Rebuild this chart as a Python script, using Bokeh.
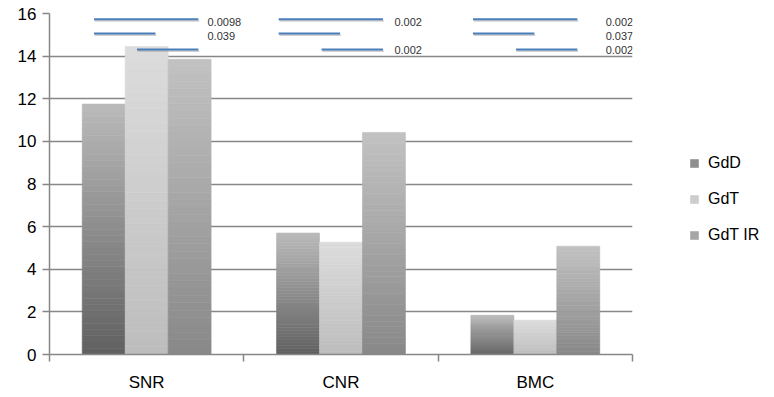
import numpy as np
from bokeh.plotting import figure
from bokeh.models import ColumnDataSource, Range1d, FixedTicker, Legend, LegendItem
from bokeh.embed import file_html
from bokeh.resources import INLINE
from bokeh.core.properties import value

# ---------------- data ----------------
categories = ["SNR", "CNR", "BMC"]
series_names = ["GdD", "GdT", "GdT IR"]
gdd = [11.75, 5.70, 1.84]
gdt = [14.45, 5.27, 1.61]
gdt_ir = [13.85, 10.42, 5.08]
y_ticks = [0, 2, 4, 6, 8, 10, 12, 14, 16]

# significance brackets: group index, from-series, to-series, level, p-value label
sig_group = [0, 0, 0, 1, 1, 1, 2, 2, 2]
sig_from = [0, 0, 1, 0, 0, 1, 0, 0, 1]
sig_to = [2, 1, 2, 2, 1, 2, 2, 1, 2]
sig_level = [15.73, 15.06, 14.31, 15.73, 15.06, 14.31, 15.73, 15.06, 14.31]
sig_label = ["0.0098", "0.039", "", "0.002", "", "0.002", "0.002", "0.037", "0.002"]
label_level = [15.59, 14.94, 14.30]

# ---------------- style / layout ----------------
bar_w = 0.221
grad_bottom = ["#606060", "#bdbdbd", "#888888"]
grad_top = ["#bababa", "#dcdcdc", "#c2c2c2"]
line_shift = [0.05, 0.0, 0.0]      # per-group shift of bracket lines
label_dx = [0.313, 0.275, 0.362]   # per-group x offset of p-value labels
FONT = "Liberation Sans"

p = figure(frame_width=583, frame_height=341, output_backend="svg", toolbar_location=None,
           x_range=Range1d(0, 3), y_range=Range1d(0, 16),
           min_border_left=49, min_border_right=142, min_border_top=13, min_border_bottom=43)
p.outline_line_color = None
p.background_fill_color = "white"

def hex2rgb(h):
    h = h.lstrip("#")
    return np.array([int(h[i:i + 2], 16) for i in (0, 2, 4)], dtype=float)

def rgb2hex(c):
    return "#%02x%02x%02x" % tuple(int(round(v)) for v in c)

N = 40
renderers = []
for s, vals in enumerate([gdd, gdt, gdt_ir]):
    cb, ct = hex2rgb(grad_bottom[s]), hex2rgb(grad_top[s])
    d = dict(left=[], right=[], bottom=[], top=[], color=[])
    for g, v in enumerate(vals):
        xc = g + 0.5 + (s - 1) * bar_w
        edges = np.linspace(0, v, N + 1)
        for k in range(N):
            t = (k + 0.5) / N
            col = rgb2hex(cb * (1 - t) + ct * t)
            d["left"].append(xc - bar_w / 2)
            d["right"].append(xc + bar_w / 2)
            d["bottom"].append(edges[k])
            d["top"].append(edges[k + 1])
            d["color"].append(col)
    src = ColumnDataSource(d)
    r = p.quad(left="left", right="right", bottom="bottom", top="top", source=src,
               fill_color="color", line_color="color", line_width=0.6)
    renderers.append(r)

# significance lines
xs, ys, sx, sy = [], [], [], []
for g, a, b, lev in zip(sig_group, sig_from, sig_to, sig_level):
    ca = g + 0.5 + (a - 1) * bar_w
    cb_ = g + 0.5 + (b - 1) * bar_w
    x0 = ca - 0.1 + line_shift[g]
    x1 = cb_ - 0.005 + line_shift[g]
    xs.append([x0, x1]); ys.append([lev, lev])
    sx.append([x0 + 0.004, x1 + 0.004]); sy.append([lev - 0.07, lev - 0.07])
p.multi_line(xs=sx, ys=sy, line_color="#9a9a9a", line_alpha=0.45, line_width=2)
p.multi_line(xs=xs, ys=ys, line_color="#4a7ebb", line_width=2)

tx, ty, tt = [], [], []
for i, (g, lab) in enumerate(zip(sig_group, sig_label)):
    if lab:
        tx.append(g + 0.5 + label_dx[g])
        ty.append(label_level[i % 3])
        tt.append(lab)
p.text(x=tx, y=ty, text=tt, text_font=value(FONT), text_font_size="11px",
       text_color="#333333", text_baseline="middle", text_align="left")

# axes
p.yaxis.ticker = FixedTicker(ticks=y_ticks)
p.yaxis.axis_line_color = "#878787"
p.yaxis.axis_line_width = 1.5
p.yaxis.major_tick_line_color = "#878787"
p.yaxis.major_tick_line_width = 1.5
p.yaxis.major_tick_out = 7
p.yaxis.major_tick_in = 0
p.yaxis.minor_tick_line_color = None
p.yaxis.major_label_text_font = FONT
p.yaxis.major_label_text_font_size = "17px"
p.yaxis.major_label_text_color = "#000000"
p.yaxis.major_label_standoff = 6

p.xaxis.ticker = FixedTicker(ticks=[0.5, 1.5, 2.5], minor_ticks=[0, 1, 2, 3])
p.xaxis.major_label_overrides = {0.5: categories[0], 1.5: categories[1], 2.5: categories[2]}
p.xaxis.major_tick_line_color = None
p.xaxis.major_tick_out = 7
p.xaxis.major_tick_in = 0
p.xaxis.minor_tick_line_color = "#878787"
p.xaxis.minor_tick_line_width = 1.5
p.xaxis.minor_tick_out = 7
p.xaxis.minor_tick_in = 0
p.xaxis.axis_line_color = "#878787"
p.xaxis.axis_line_width = 1.5
p.xaxis.major_label_text_font = FONT
p.xaxis.major_label_text_font_size = "17px"
p.xaxis.major_label_text_color = "#000000"
p.xaxis.major_label_standoff = 11

p.xgrid.visible = False
p.ygrid.ticker = FixedTicker(ticks=y_ticks)
p.ygrid.grid_line_color = "#878787"
p.ygrid.grid_line_width = 1.5

items = [LegendItem(label=series_names[s], renderers=[renderers[s]], index=N // 2)
         for s in range(3)]
legend = Legend(items=items, location=(57, 110), orientation="vertical",
                border_line_color=None, background_fill_alpha=0,
                label_text_font=FONT, label_text_font_size="16px", label_text_color="#000000",
                glyph_width=10, glyph_height=10, label_standoff=9, spacing=18,
                padding=0, margin=0)
p.add_layout(legend, "right")

open("out.html", "w").write(file_html(p, INLINE))
